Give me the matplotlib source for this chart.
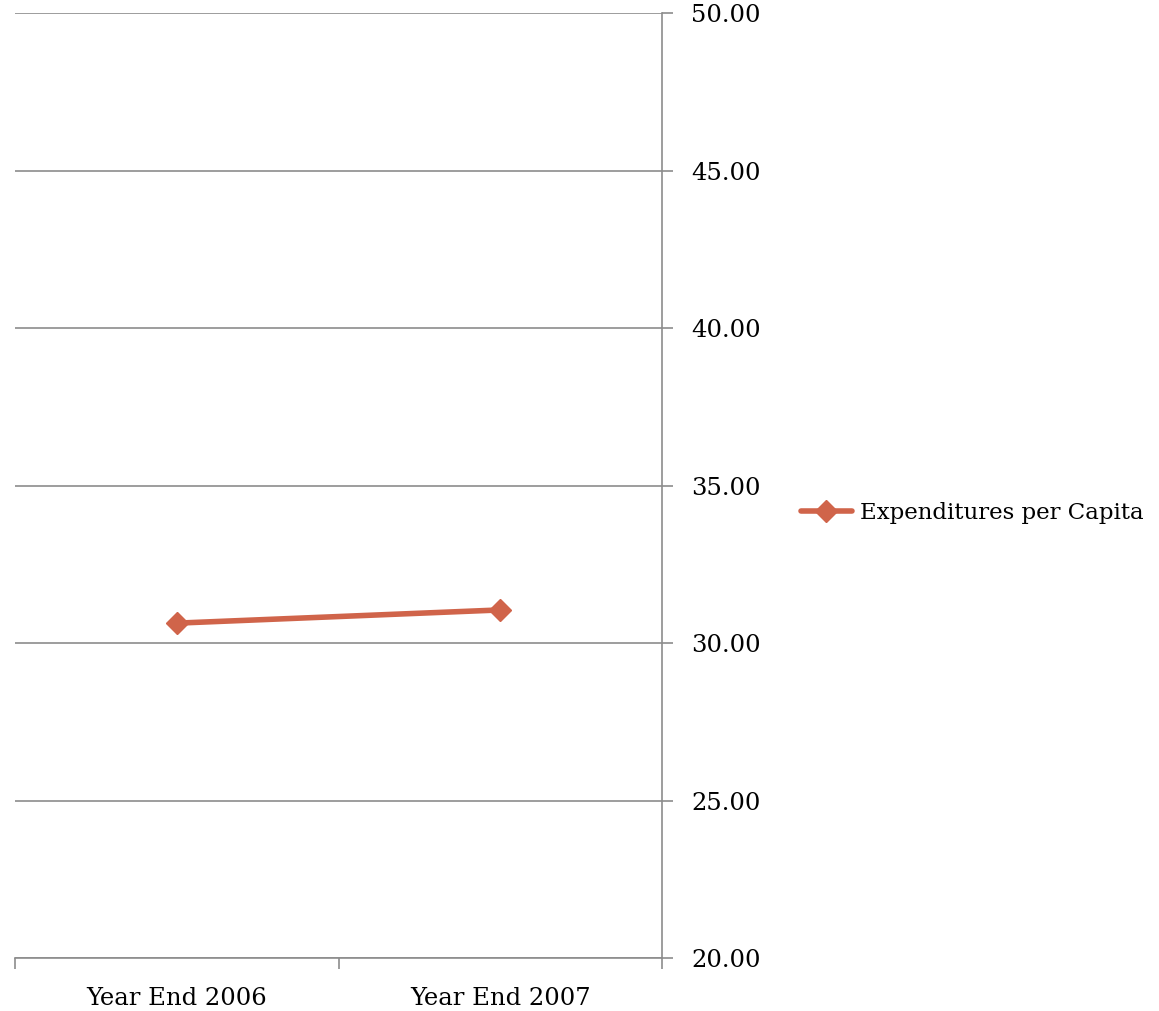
import matplotlib
matplotlib.use("Agg")
import matplotlib.pyplot as plt
import numpy as np

categories = ["Year End 2006", "Year End 2007"]
values = [30.63, 31.05]
series_name = "Expenditures per Capita"
yticks = [20, 25, 30, 35, 40, 45, 50]

plt.rcParams['font.family'] = ['DejaVu Serif']

W, H = 1159, 1011
fig = plt.figure(figsize=(W/100, H/100), dpi=100)
ax = fig.add_axes([15/W, (H-958)/H, (662-15)/W, (958-13)/H])

x = np.arange(len(categories)) + 0.5
line, = ax.plot(x, values, color='#D0644A', lw=4, marker='D', ms=11,
                label=series_name, solid_capstyle='round', clip_on=False)

ax.set_xlim(0, len(categories))
ax.set_ylim(20, 50)
ax.set_yticks(yticks)
ax.set_yticklabels([f"{v:.2f}" for v in yticks])
ax.yaxis.tick_right()
ax.set_xticks(np.arange(len(categories)+1))
ax.set_xticklabels([])
ax.set_xticks(x, minor=True)
ax.set_xticklabels(categories, minor=True)
ax.tick_params(axis='x', which='minor', length=0, pad=21, labelsize=17.5)
ax.tick_params(axis='x', which='major', length=8, color='#8c8c8c', width=1.2)
ax.tick_params(axis='y', length=8, color='#8c8c8c', width=1.2, labelsize=17.5, pad=13)

ax.grid(axis='y', color='#8c8c8c', lw=1.2)
ax.set_axisbelow(True)
for s in ['left', 'top']:
    ax.spines[s].set_visible(False)
for s in ['right', 'bottom']:
    ax.spines[s].set_color('#8c8c8c')
    ax.spines[s].set_linewidth(1.2)

fig.legend(handles=[line], loc='center left', bbox_to_anchor=(792/W, 1-513/H),
           frameon=False, fontsize=16.5, handlelength=2.2, handletextpad=0.35,
           borderaxespad=0)

fig.savefig("out.png", dpi=100)
